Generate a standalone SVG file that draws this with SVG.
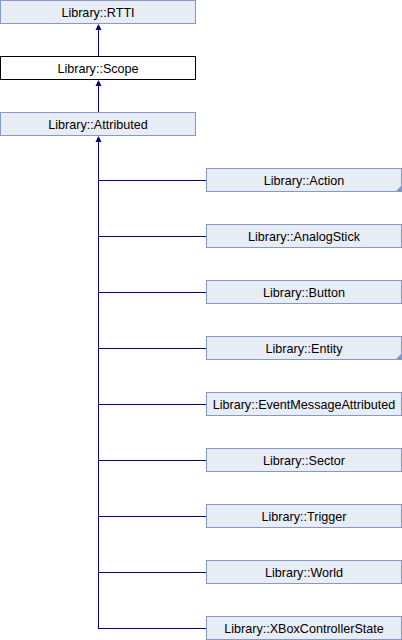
<svg xmlns="http://www.w3.org/2000/svg" width="402" height="640" viewBox="0 0 402 640">
<defs>
<style>
.n rect{fill:#e8ecf5;stroke:#8499cb;stroke-width:1}
.n.w rect{fill:#ffffff;stroke:#000000}
.n text{font-family:"Liberation Sans",Arial,sans-serif;font-size:12.6px;fill:#000000;text-anchor:middle}
.c{fill:#8499cb}
#edges line{stroke:#000080;stroke-width:1}
#edges polygon{fill:#000080}
</style>
</defs>
<rect width="402" height="640" fill="#ffffff"/>
<g id="edges">
<line x1="98.5" y1="56" x2="98.5" y2="27"/>
<polygon points="98.5,24 95.5,30 101.5,30"/>
<line x1="98.5" y1="112" x2="98.5" y2="83"/>
<polygon points="98.5,80 95.5,86 101.5,86"/>
<line x1="98.5" y1="628.5" x2="98.5" y2="139"/>
<polygon points="98.5,136 95.5,142 101.5,142"/>
<line x1="98" y1="180.5" x2="206" y2="180.5"/>
<line x1="98" y1="236.5" x2="206" y2="236.5"/>
<line x1="98" y1="292.5" x2="206" y2="292.5"/>
<line x1="98" y1="348.5" x2="206" y2="348.5"/>
<line x1="98" y1="404.5" x2="206" y2="404.5"/>
<line x1="98" y1="460.5" x2="206" y2="460.5"/>
<line x1="98" y1="516.5" x2="206" y2="516.5"/>
<line x1="98" y1="572.5" x2="206" y2="572.5"/>
<line x1="98" y1="628.5" x2="206" y2="628.5"/>
</g>
<g id="rtti" class="n"><rect x="0.5" y="0.5" width="195" height="23"/><text x="98" y="16.5">Library::RTTI</text></g>
<g id="scope" class="n w"><rect x="0.5" y="56.5" width="195" height="23"/><text x="98" y="72.5">Library::Scope</text></g>
<g id="attributed" class="n"><rect x="0.5" y="112.5" width="195" height="23"/><text x="98" y="128.5">Library::Attributed</text></g>
<g id="action" class="n"><rect x="206.5" y="168.5" width="195" height="23"/><text x="304" y="184.5">Library::Action</text><polygon class="c" points="402,185 402,192 395,192"/></g>
<g id="analogstick" class="n"><rect x="206.5" y="224.5" width="195" height="23"/><text x="304" y="240.5">Library::AnalogStick</text></g>
<g id="button" class="n"><rect x="206.5" y="280.5" width="195" height="23"/><text x="304" y="296.5">Library::Button</text></g>
<g id="entity" class="n"><rect x="206.5" y="336.5" width="195" height="23"/><text x="304" y="352.5">Library::Entity</text><polygon class="c" points="402,353 402,360 395,360"/></g>
<g id="eventmessageattributed" class="n"><rect x="206.5" y="392.5" width="195" height="23"/><text x="304" y="408.5">Library::EventMessageAttributed</text></g>
<g id="sector" class="n"><rect x="206.5" y="448.5" width="195" height="23"/><text x="304" y="464.5">Library::Sector</text></g>
<g id="trigger" class="n"><rect x="206.5" y="504.5" width="195" height="23"/><text x="304" y="520.5">Library::Trigger</text></g>
<g id="world" class="n"><rect x="206.5" y="560.5" width="195" height="23"/><text x="304" y="576.5">Library::World</text></g>
<g id="xboxcontrollerstate" class="n"><rect x="206.5" y="616.5" width="195" height="23"/><text x="304" y="632.5">Library::XBoxControllerState</text></g>
</svg>
